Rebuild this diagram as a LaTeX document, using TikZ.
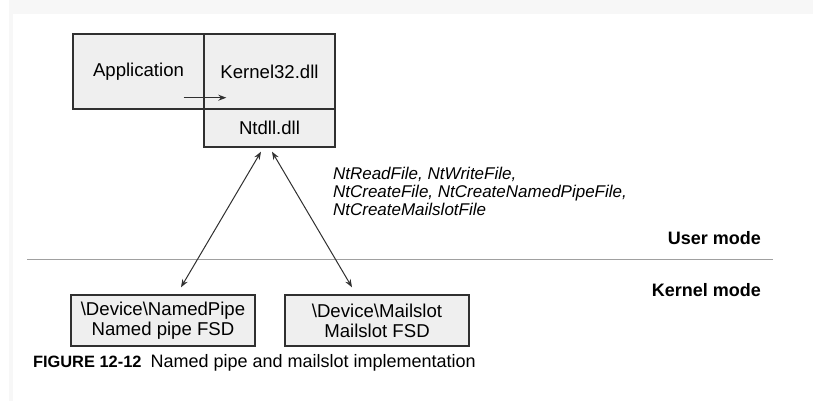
\documentclass[tikz,border=0pt]{standalone}
\usepackage{fontspec}
\setmainfont{Liberation Sans}
\usepackage{xcolor}
\usetikzlibrary{arrows.meta, positioning}

\definecolor{boxfill}{HTML}{EFEFEF}
\definecolor{edge}{HTML}{303030}
\definecolor{rule}{HTML}{A0A0A0}
\definecolor{strip}{HTML}{F7F7F7}

\tikzset{
  layer/.style={draw=edge, fill=boxfill, line width=0.7pt, inner sep=0pt,
    align=center, font=\fontsize{9.3}{10}\selectfont},
  call/.style={draw=edge, line width=0.5pt,
    {Stealth[length=4pt,width=3pt]}-{Stealth[length=4pt,width=3pt]}},
  modelabel/.style={anchor=east, font=\bfseries\fontsize{9}{10}\selectfont},
}

\begin{document}
\begin{tikzpicture}[x=0.5pt, y=-0.5pt]
\useasboundingbox (0,0) rectangle (813,401);
% --- page background ---
\fill[strip] (9,0) rectangle (813,14);
\fill[strip] (9,14) rectangle (13,401);
% --- user-mode stack ---
\node[layer, minimum width=65.5pt, minimum height=37.5pt] (app) at (138.5,71.5) {Application};
\node[layer, minimum width=65.5pt, minimum height=37.5pt] (k32) at (269.5,71.5) {Kernel32.dll};
\node[layer, minimum width=65.5pt, minimum height=19pt] (ntdll) at (269.5,128) {Ntdll.dll};
\draw[edge, line width=0.6pt, -{Stealth[length=4pt,width=3pt]}]
  ([xshift=-10.5pt,yshift=6pt]app.south east) -- ([xshift=11.5pt,yshift=6pt]k32.south west);
% --- kernel-mode drivers ---
\node[layer, minimum width=92pt, minimum height=25.5pt] (np) at (163,320.5)
  {\textbackslash Device\textbackslash NamedPipe\\Named pipe FSD};
\node[layer, minimum width=92pt, minimum height=25.5pt] (ms) at (377,320.5)
  {\textbackslash Device\textbackslash Mailslot\\Mailslot FSD};
% --- mode split ---
\coordinate (ruleL) at (27,259);
\coordinate (ruleR) at (773,259);
\draw[rule, line width=0.5pt] (ruleL) -- (ruleR);
\node[modelabel] (user) at (768,238) {User mode};
\node[modelabel] (kernel) at (768,290) {Kernel mode};
% --- native calls ---
\draw[call] ([xshift=-4.25pt,yshift=-2pt]ntdll.south) -- ([xshift=9pt,yshift=3.5pt]np.north);
\draw[call] ([xshift=1.25pt,yshift=-2pt]ntdll.south) -- ([xshift=-12.5pt,yshift=3.5pt]ms.north);
\node[anchor=west, align=left, font=\itshape\fontsize{8.5}{9}\selectfont] (calls) at (326,191)
  {NtReadFile, NtWriteFile,\\NtCreateFile, NtCreateNamedPipeFile,\\NtCreateMailslotFile};
% --- caption ---
\node[anchor=west, font=\fontsize{9}{11}\selectfont] (caption) at (26,363)
  {{\bfseries\fontsize{8.2}{10}\selectfont FIGURE 12-12}\enspace Named pipe and mailslot implementation};
\end{tikzpicture}
\end{document}
